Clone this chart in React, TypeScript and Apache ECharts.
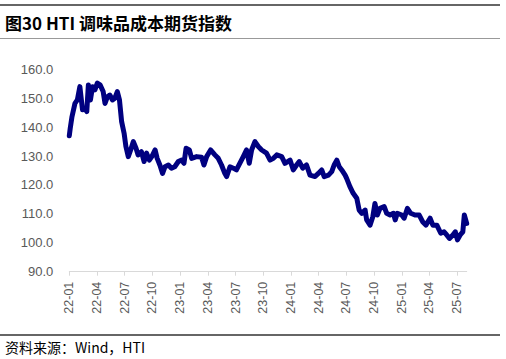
import React, { useEffect, useRef } from "react";
import * as echarts from "echarts";

const titleText = "图30 HTI 调味品成本期货指数";
const sourceText = "资料来源：Wind，HTI";

const dates: string[] = [
  "2022-01-01","2022-01-04","2022-01-10","2022-01-20","2022-01-28","2022-02-05","2022-02-13","2022-02-21","2022-02-26",
  "2022-03-03","2022-03-10","2022-03-17","2022-03-25","2022-04-02","2022-04-11","2022-04-21","2022-04-27","2022-05-05",
  "2022-05-13","2022-05-22","2022-05-30","2022-06-07","2022-06-14","2022-06-21","2022-06-29","2022-07-05","2022-07-13",
  "2022-07-21","2022-07-30","2022-08-08","2022-08-15","2022-08-26","2022-09-04","2022-09-12","2022-09-21","2022-09-29",
  "2022-10-10","2022-10-17","2022-10-26","2022-11-04","2022-11-12","2022-11-23","2022-12-03","2022-12-14","2022-12-26",
  "2023-01-06","2023-01-14","2023-01-21","2023-02-01","2023-02-08","2023-02-23","2023-03-11","2023-03-19","2023-03-28",
  "2023-04-10","2023-04-24","2023-05-05","2023-05-16","2023-05-27","2023-06-02","2023-06-13","2023-06-24","2023-07-04",
  "2023-07-27","2023-08-07","2023-08-16","2023-08-24","2023-09-04","2023-09-15","2023-09-26","2023-10-12","2023-10-24",
  "2023-11-04","2023-11-15","2023-12-01","2023-12-12","2023-12-29","2024-01-09","2024-01-20","2024-01-29","2024-02-09",
  "2024-02-21","2024-03-03","2024-03-20","2024-03-31","2024-04-11","2024-04-19","2024-05-03","2024-05-14","2024-05-22",
  "2024-05-31","2024-06-08","2024-06-16","2024-06-27","2024-07-02","2024-07-13","2024-07-24","2024-08-05","2024-08-13",
  "2024-08-22","2024-09-02","2024-09-07","2024-09-18","2024-09-27","2024-10-04","2024-10-12","2024-10-21","2024-11-04",
  "2024-11-12","2024-11-23","2024-12-04","2024-12-10","2024-12-17","2025-01-01","2025-01-09","2025-01-20","2025-01-31",
  "2025-02-13","2025-02-26","2025-03-09","2025-03-20","2025-04-03","2025-04-12","2025-04-25","2025-05-08","2025-05-19",
  "2025-05-28","2025-06-06","2025-06-17","2025-06-25","2025-07-02","2025-07-11","2025-07-20","2025-07-25","2025-08-02",
];

const values: number[] = [
  137.0,139.5,143.6,148.2,149.4,154.0,146.0,146.5,145.4,
  154.6,149.4,154.0,152.9,155.2,154.6,152.3,148.2,150.5,
  151.1,149.4,150.0,152.3,149.4,141.9,137.9,133.3,129.8,
  132.1,135.0,132.7,130.4,131.5,128.1,131.0,128.6,129.8,
  132.1,129.2,126.9,124.0,126.3,126.9,125.8,126.3,128.1,
  128.6,127.5,132.7,132.1,129.2,129.8,129.6,126.9,129.8,
  132.1,130.4,129.2,126.9,124.0,122.9,126.3,125.8,125.2,
  129.8,132.1,127.5,132.1,135.0,133.3,132.1,131.0,128.6,
  129.2,130.4,129.8,127.5,128.6,125.2,126.9,128.1,125.8,
  126.9,123.4,122.9,124.0,125.2,122.9,123.4,124.6,126.9,
  128.6,126.3,125.2,123.4,122.3,119.4,117.1,115.4,111.3,
  110.2,111.3,107.9,106.1,109.0,113.6,109.6,111.9,112.5,
  110.2,109.6,110.2,107.9,110.2,109.6,108.5,111.9,110.2,
  109.6,109.6,107.3,106.1,108.5,106.1,106.1,103.3,103.8,
  102.7,101.5,102.7,103.8,101.0,102.7,103.8,109.6,106.7,
];

const tickMonths: number[] = [0, 3, 6, 9, 12, 15, 18, 21, 24, 27, 30, 33, 36, 39, 42];
const yMin = 90;
const yMax = 160;
const yStep = 10;

function monthIndex(d: string): number {
  const [y, m, day] = d.split("-").map(Number);
  const dim = new Date(y, m, 0).getDate();
  return (y - 2022) * 12 + (m - 1) + (day - 1) / dim;
}

function monthLabel(v: number): string {
  const idx = Math.round(v);
  const yy = 22 + Math.floor(idx / 12);
  const mm = (idx % 12) + 1;
  return `${yy}-${mm < 10 ? "0" + mm : mm}`;
}

export default function App() {
  const ref = useRef<HTMLDivElement>(null);
  useEffect(() => {
    document.body.style.margin = "0";
    if (!ref.current) return;
    const chart = echarts.init(ref.current, null, { renderer: "svg" });
    const data = dates.map((d, i) => [monthIndex(d), values[i]]);
    const xMax = monthIndex(dates[dates.length - 1]);
    chart.setOption({
      animation: false,
      backgroundColor: "#ffffff",
      grid: { left: 69.3, right: 39.3, top: 69.3, bottom: 87.3, containLabel: false },
      xAxis: {
        type: "value",
        min: 0,
        max: xMax,
        interval: 3,
        splitLine: { show: false },
        axisLine: { show: true, lineStyle: { color: "#d9d9d9", width: 1 } },
        axisTick: { show: true, length: 4, lineStyle: { color: "#d9d9d9" }, customValues: tickMonths },
        axisLabel: {
          customValues: tickMonths,
          rotate: 90,
          margin: 10,
          color: "#595959",
          fontSize: 12.5,
          fontFamily: "Liberation Sans, Arial, sans-serif",
          formatter: (v: number) => monthLabel(v),
        },
      },
      yAxis: {
        type: "value",
        min: yMin,
        max: yMax,
        interval: yStep,
        splitLine: { show: false },
        axisLine: { show: false },
        axisTick: { show: false },
        axisLabel: {
          margin: 16,
          color: "#595959",
          fontSize: 13,
          fontFamily: "Liberation Sans, Arial, sans-serif",
          formatter: (v: number) => v.toFixed(1),
        },
      },
      series: [
        {
          type: "line",
          data,
          showSymbol: false,
          symbol: "none",
          lineStyle: { color: "#000080", width: 5, join: "round", cap: "round" },
        },
      ],
      graphic: [
        { type: "line", shape: { x1: 0, y1: 5, x2: 500, y2: 5 }, style: { stroke: "#666666", lineWidth: 2 } },
        {
          type: "text",
          x: 5,
          y: 22.5,
          style: {
            text: titleText,
            font: "bold 17px 'Noto Sans CJK SC', sans-serif",
            fill: "#000000",
            verticalAlign: "middle",
          },
        },
        { type: "line", shape: { x1: 0, y1: 38.5, x2: 500, y2: 38.5 }, style: { stroke: "#999999", lineWidth: 1 } },
        { type: "line", shape: { x1: 0, y1: 335, x2: 500, y2: 335 }, style: { stroke: "#333333", lineWidth: 1.5 } },
        {
          type: "text",
          x: 5,
          y: 347,
          style: {
            text: sourceText,
            font: "14px 'Noto Sans CJK SC', sans-serif",
            fill: "#000000",
            verticalAlign: "middle",
          },
        },
      ],
    });
    return () => chart.dispose();
  }, []);
  return <div ref={ref} style={{ width: 506, height: 359 }} />;
}
